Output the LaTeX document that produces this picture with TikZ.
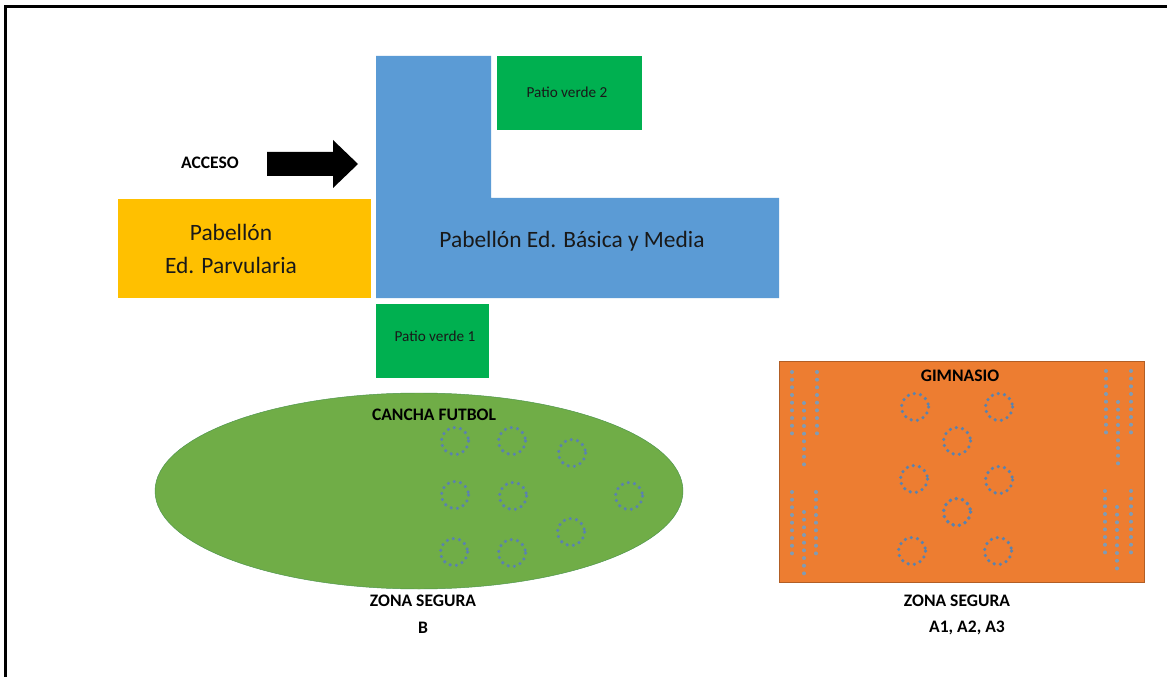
\documentclass[tikz,border=0pt]{standalone}
\usepackage{fontspec}
\setmainfont{Carlito}
\usetikzlibrary{positioning}
\definecolor{bluepab}{HTML}{5B9BD5}
\definecolor{yellowpab}{HTML}{FFC000}
\definecolor{greenpatio}{HTML}{00B050}
\definecolor{greencancha}{HTML}{70AD47}
\definecolor{orangegym}{HTML}{ED7D31}
\definecolor{dotblue}{HTML}{5A82AE}
\definecolor{dotgray}{HTML}{7F9BB5}
\tikzset{
  bigtext/.style={font=\fontsize{20}{27.5}\selectfont,text=black!90,align=center},
  smalltext/.style={font=\fontsize{13}{15}\selectfont,text=black!90},
  boldtext/.style={font=\fontsize{15}{18}\selectfont\bfseries,text=black},
  dotring/.style={draw=dotblue,line width=3pt,line cap=round,dash pattern=on 0pt off 5.35pt},
  dotcolumn/.style={draw=dotgray,line width=3.4pt,line cap=round,dash pattern=on 0pt off 6.55pt}
}
\begin{document}
\begin{tikzpicture}[x=0.03cm,y=-0.03cm]
\useasboundingbox (0,0) rectangle (1167,677);
\fill[white] (0,0) rectangle (1167,677);
\draw[black,line width=2pt] (5.5,677) -- (5.5,6.5) -- (1167,6.5);

\fill[bluepab] (376,56) -- (491,56) -- (491,198) -- (779,198) -- (779,298) -- (376,298) -- cycle;
\fill[yellowpab] (118,199) rectangle (371,298);
\fill[greenpatio] (497,56) rectangle (642,130);
\fill[greenpatio] (376,304) rectangle (489,378);
\fill[black] (267,152) -- (333,152) -- (333,140) -- (358,164) -- (333,188) -- (333,176) -- (267,176) -- cycle;
\draw[draw=green!40!black!70,fill=greencancha,thin] (419,491) ellipse (264 and 98);
\draw[draw=orangegym!75!black,fill=orangegym,thin] (779,361) rectangle (1144,582);

\node[boldtext] (acceso) at (210,163) {ACCESO};
\node[smalltext] (patio2) at (567,92) {Patio verde 2};
\node[smalltext] (patio1) at (435,336) {Patio verde 1};
\node[bigtext] (basica) at (572,241) {Pabellón Ed. Básica y Media};
\node[bigtext] (parvularia) at (231,249) {Pabellón\\Ed. Parvularia};
\node[boldtext] (cancha) at (434,415) {CANCHA FUTBOL};
\node[boldtext] (gimnasio) at (960,376) {GIMNASIO};
\node[boldtext] (zonab) at (423,601) {ZONA SEGURA};
\node[boldtext] (letrab) at (423,628) {B};
\node[boldtext] (zonaa) at (957,601) {ZONA SEGURA};
\node[boldtext] (letraa) at (967,628) {A1, A2, A3};

\foreach \cx/\cy in {455/441,512/441,572/453,455/495,513/496,629/496,571/532,454/552,512/553,
  915/407,999/407,957/441,914/479,999/480,957/512,912/551,998/551,957/512}
  \draw[dotring] (\cx,\cy) circle (13.5);

\foreach \cx/\ya/\yb in {792/372/440,817/372/440,804/403/472,792/492/560,816/492/560,804/512/581,
  1106/371/438,1131/371/438,1118/402/469,1105/491/557,1131/491/557,1117/507/576}
  \draw[dotcolumn] (\cx,\ya) -- (\cx,\yb);
\end{tikzpicture}
\end{document}
